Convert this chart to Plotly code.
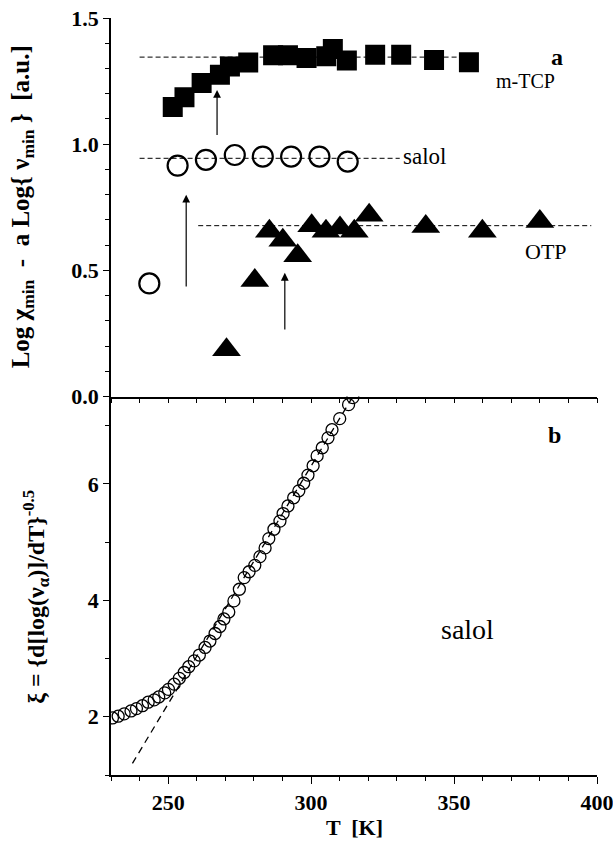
import plotly.graph_objects as go

# ---------------- data: panel a ----------------
mtcp_T = [251.6, 255.7, 261.7, 268.1, 271.6, 278.0, 286.7, 291.9, 298.4, 305.3,
          307.6, 312.5, 322.4, 331.5, 343.0, 355.2]
mtcp_v = [1.147, 1.186, 1.242, 1.275, 1.308, 1.324, 1.352, 1.352, 1.341, 1.348,
          1.377, 1.332, 1.354, 1.354, 1.334, 1.325]

salol_T = [243.4, 253.3, 263.2, 273.3, 283.1, 293.0, 302.9, 312.8]
salol_v = [0.448, 0.915, 0.938, 0.957, 0.951, 0.951, 0.951, 0.931]

otp_T = [270.4, 280.3, 285.4, 290.1, 295.3, 300.2, 305.2, 310.1, 315.1, 320.3,
         340.1, 359.9, 380.0]
otp_v = [0.185, 0.460, 0.655, 0.619, 0.558, 0.677, 0.655, 0.668, 0.655, 0.718,
         0.674, 0.655, 0.694]

# plateau reference levels (dashed) and their T extent
mtcp_ref_T = [240.0, 355.0]
mtcp_ref_v = [1.345, 1.345]
salol_ref_T = [240.0, 331.0]
salol_ref_v = [0.944, 0.944]
otp_ref_T = [260.5, 398.0]
otp_ref_v = [0.677, 0.677]

# arrows (T, tip, tail)
arrow_T = [267.1, 256.3, 290.8]
arrow_tip = [1.215, 0.80, 0.49]
arrow_tail = [1.03, 0.43, 0.26]

# ---------------- data: panel b ----------------
xi_T = [230.5, 232.5, 234.6, 237.0, 238.9, 241.0, 243.0, 245.1, 246.7, 248.8,
        250.1, 252.1, 253.9, 255.6, 257.2, 259.1, 260.9, 262.9, 264.6, 266.4,
        268.1, 269.5, 271.2, 273.0, 274.9, 276.6, 278.3, 280.3, 282.1, 283.9,
        285.2, 287.0, 289.1, 290.2, 291.9, 293.9, 295.7, 297.4, 298.9, 300.7,
        302.1, 303.9, 305.9, 307.3, 310.0, 313.1, 314.6]
xi_v = [1.98, 2.01, 2.05, 2.10, 2.14, 2.19, 2.25, 2.29, 2.34, 2.41,
        2.47, 2.56, 2.66, 2.76, 2.86, 2.96, 3.06, 3.19, 3.30, 3.43,
        3.55, 3.68, 3.80, 3.99, 4.19, 4.39, 4.49, 4.60, 4.75, 4.90,
        5.06, 5.22, 5.36, 5.49, 5.62, 5.76, 5.88, 6.01, 6.15, 6.31,
        6.48, 6.62, 6.79, 6.93, 7.12, 7.36, 7.48]
fit_T = [237.5, 314.6]
fit_v = [1.20, 7.50]

FONT = "Liberation Serif"
BLACK = "black"

fig = go.Figure()

# panel a traces
for tx, vy in [(mtcp_ref_T, mtcp_ref_v), (salol_ref_T, salol_ref_v), (otp_ref_T, otp_ref_v)]:
    fig.add_trace(go.Scatter(x=tx, y=vy, mode="lines", xaxis="x2", yaxis="y",
                             line=dict(color=BLACK, width=1, dash="5px,3px"),
                             showlegend=False, hoverinfo="skip"))
fig.add_trace(go.Scatter(x=mtcp_T, y=mtcp_v, mode="markers", xaxis="x2", yaxis="y",
                         marker=dict(symbol="square", size=20, color=BLACK,
                                     line=dict(width=0)), showlegend=False))
fig.add_trace(go.Scatter(x=salol_T, y=salol_v, mode="markers", xaxis="x2", yaxis="y",
                         marker=dict(symbol="circle-open", size=20, color=BLACK,
                                     line=dict(width=2.2, color=BLACK)), showlegend=False))
fig.add_trace(go.Scatter(x=otp_T, y=otp_v, mode="markers", xaxis="x2", yaxis="y",
                         marker=dict(symbol="triangle-up", size=25, color=BLACK,
                                     line=dict(width=0)), showlegend=False))

# panel b traces
fig.add_trace(go.Scatter(x=fit_T, y=fit_v, mode="lines", xaxis="x", yaxis="y2",
                         line=dict(color=BLACK, width=1.3, dash="7px,5px"),
                         showlegend=False, hoverinfo="skip"))
fig.add_trace(go.Scatter(x=xi_T, y=xi_v, mode="markers", xaxis="x", yaxis="y2",
                         marker=dict(symbol="circle-open", size=12, color=BLACK,
                                     line=dict(width=1.3, color=BLACK)), showlegend=False))

tickfont = dict(family=FONT, size=22, color=BLACK, weight="bold")
line_common = dict(showline=True, linecolor=BLACK, linewidth=1.5, showgrid=False,
                   zeroline=False, tickcolor=BLACK, tickwidth=1.2, automargin=False)

fig.update_layout(
    width=613, height=850,
    margin=dict(l=111, r=16, t=18, b=75, autoexpand=False),
    paper_bgcolor="white", plot_bgcolor="white",
    font=dict(family=FONT, color=BLACK),
    showlegend=False,
    # bottom panel x axis (with labels)
    xaxis=dict(domain=[0, 1], anchor="y2", range=[230, 400], tick0=0, dtick=50,
               ticks="outside", ticklen=7, tickfont=tickfont, ticklabeloverflow="allow",
               minor=dict(dtick=10, tick0=0, ticks="outside", ticklen=4,
                          tickcolor=BLACK, tickwidth=1),
               **line_common),
    # top panel x axis at the middle boundary (ticks point into panel b)
    xaxis2=dict(domain=[0, 1], anchor="y", range=[230, 400], tick0=0, dtick=10,
                ticks="outside", ticklen=5, showticklabels=False, **line_common),
    # top edge ticks (inside)
    xaxis3=dict(overlaying="x2", anchor="y", side="top", range=[230, 400], tick0=0,
                dtick=10, ticks="inside", ticklen=5, showticklabels=False, **line_common),
    # panel a y axis
    yaxis=dict(domain=[0.5, 1], anchor="x2", range=[0, 1.5], tick0=0, dtick=0.5,
               tickformat=".1f", ticks="outside", ticklen=6, tickfont=tickfont,
               minor=dict(dtick=0.1, tick0=0, ticks="outside", ticklen=4,
                          tickcolor=BLACK, tickwidth=1),
               **line_common),
    yaxis3=dict(overlaying="y", anchor="x2", side="right", range=[0, 1.5], tick0=0,
                dtick=0.1, ticks="inside", ticklen=6, showticklabels=False, **line_common),
    # panel b y axis
    yaxis2=dict(domain=[0, 0.5], anchor="x", range=[1, 7.5], tick0=0, dtick=2,
                ticks="outside", ticklen=6, tickfont=tickfont,
                minor=dict(dtick=1, tick0=0, ticks="outside", ticklen=4,
                           tickcolor=BLACK, tickwidth=1),
                **line_common),
    yaxis4=dict(overlaying="y2", anchor="x", side="right", range=[1, 7.5], tick0=0,
                dtick=1, ticks="inside", ticklen=6, showticklabels=False, **line_common),
)

annotations = []
for t, tip, tail in zip(arrow_T, arrow_tip, arrow_tail):
    annotations.append(dict(x=t, y=tip, ax=t, ay=tail, xref="x2", yref="y",
                            axref="x2", ayref="y", showarrow=True, arrowhead=2,
                            arrowsize=1.3, arrowwidth=1.2, arrowcolor=BLACK, text=""))

annotations += [
    dict(x=375.0, y=1.25, xref="x2", yref="y", text="m-TCP", showarrow=False,
         font=dict(family=FONT, size=20, color=BLACK)),
    dict(x=331.5, y=0.95, xref="x2", yref="y", text="salol", showarrow=False,
         xanchor="left", font=dict(family=FONT, size=23, color=BLACK)),
    dict(x=382.0, y=0.575, xref="x2", yref="y", text="OTP", showarrow=False,
         font=dict(family=FONT, size=22, color=BLACK)),
    dict(x=386.0, y=1.345, xref="x2", yref="y", text="a", showarrow=False,
         font=dict(family=FONT, size=24, color=BLACK, weight="bold")),
    dict(x=385.2, y=0.449, xref="x", yref="paper", text="b", showarrow=False,
         font=dict(family=FONT, size=24, color=BLACK, weight="bold")),
    dict(x=354.6, y=3.5, xref="x", yref="y2", text="salol", showarrow=False,
         font=dict(family=FONT, size=28, color=BLACK)),
    dict(x=-0.183, y=0.75, xref="paper", yref="paper", textangle=-90,
         text="Log \u03c7<sub>min</sub>  -  a Log{ \u03bd<sub>min</sub> }  [a.u.]",
         showarrow=False, xanchor="center", yanchor="middle",
         font=dict(family=FONT, size=25, color=BLACK, weight="bold")),
    dict(x=-0.155, y=0.235, xref="paper", yref="paper", textangle=-90,
         text="\u03be = {d[log(\u03bd<sub>\u03b1</sub>)]/dT}<sup>-0.5</sup>",
         showarrow=False, xanchor="center", yanchor="middle",
         font=dict(family=FONT, size=24, color=BLACK, weight="bold")),
    dict(x=0.502, y=-0.07, xref="paper", yref="paper", text="T  [K]",
         showarrow=False, xanchor="center", yanchor="middle",
         font=dict(family=FONT, size=22, color=BLACK, weight="bold")),
]
fig.update_layout(annotations=annotations)

fig.write_html("out.html", config={"displayModeBar": False},
               post_script="document.body.style.margin='0';")
